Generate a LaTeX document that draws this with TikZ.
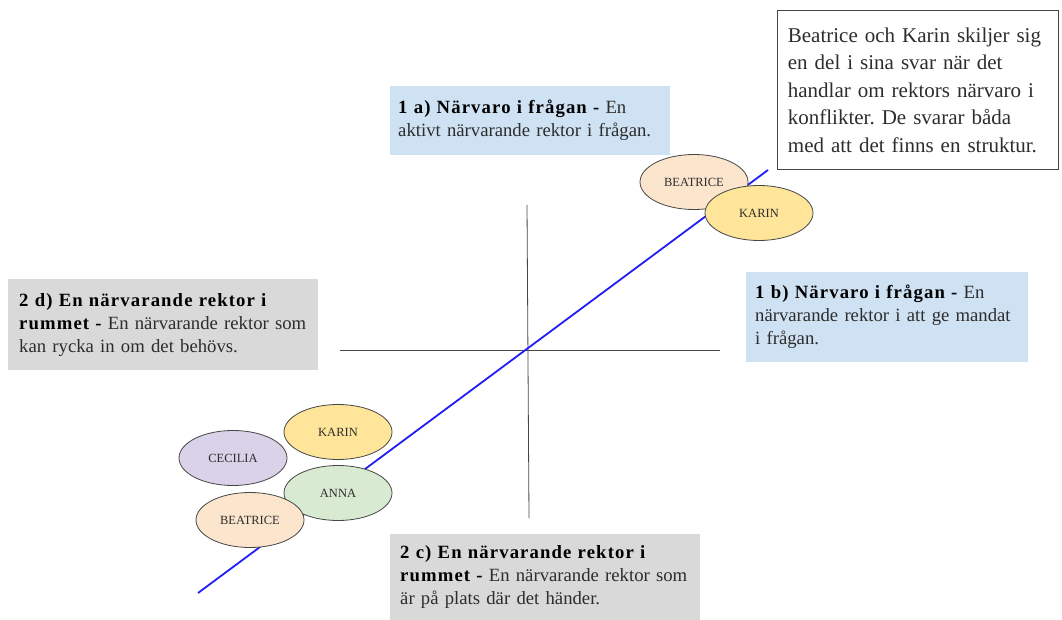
\documentclass[tikz,border=0pt]{standalone}
\usepackage{fontspec}
\setmainfont{Liberation Serif}[BoldFeatures={LetterSpace=6}]
\usetikzlibrary{shapes.geometric}
\frenchspacing
\definecolor{qblue}{RGB}{207,226,243}
\definecolor{qgray}{RGB}{217,217,217}
\definecolor{qpeach}{RGB}{252,229,205}
\definecolor{qyellow}{RGB}{255,229,153}
\definecolor{qlilac}{RGB}{217,210,233}
\definecolor{qgreen}{RGB}{217,234,211}
\definecolor{qaxis}{RGB}{70,70,70}
\definecolor{qtext}{RGB}{45,45,45}
\definecolor{qline}{RGB}{30,30,245}

\begin{document}
\begin{tikzpicture}[x=1pt,y=-1pt,
    qbox/.style={anchor=north west,align=left,inner ysep=0pt,text=qtext,
        font=\fontsize{18.7}{23}\selectfont},
    person/.style={ellipse,draw=qaxis,line width=0.8pt,minimum width=108pt,
        minimum height=55pt,inner sep=0pt,text=qtext,font=\fontsize{12.5}{14}\selectfont}]
    \useasboundingbox (0,0) rectangle (1062,620);

    % Define axes
    \coordinate (xl) at (340,350);
    \coordinate (xr) at (720,350);
    \coordinate (yt) at (527,205);
    \coordinate (yb) at (529,518);
    \draw[qaxis,line width=0.8pt] (xl) -- (xr);
    \draw[qaxis,line width=0.8pt] (yt) -- (yb);

    % Draw the line
    \coordinate (lb) at (198,593);
    \coordinate (lt) at (768,170);
    \draw[qline,line width=1.8pt] (lb) -- (lt);

    % Draw the boxes
    \node[qbox,fill=qblue,text width=264pt,inner xsep=8pt,minimum height=69pt] (q1a) at (390,86)
        {\textbf{\color{black}1 a) Närvaro i frågan -} En\\aktivt närvarande rektor i frågan.};
    \node[qbox,fill=qblue,text width=264pt,inner xsep=9pt,minimum height=90pt] (q1b) at (746,272)
        {\textbf{\color{black}1 b) Närvaro i frågan -} En\\närvarande rektor i att ge mandat\\i frågan.};
    \node[qbox,fill=qgray,text width=288pt,inner xsep=11pt,minimum height=91pt] (q2d) at (8,279)
        {\textbf{\color{black}2 d) En närvarande rektor i}\\\textbf{\color{black}rummet -} En närvarande rektor som\\kan rycka in om det behövs.};
    \node[qbox,fill=qgray,text width=290pt,inner xsep=10pt,minimum height=86pt] (q2c) at (390,534)
        {\textbf{\color{black}2 c) En närvarande rektor i}\\\textbf{\color{black}rummet -} En närvarande rektor som\\är på plats där det händer.};
    \node[qbox,fill=white,draw=qaxis,line width=0.8pt,text width=260pt,inner xsep=10.5pt,
        minimum height=159pt,font=\fontsize{21}{27.5}\selectfont] (note) at (777,10)
        {Beatrice och Karin skiljer sig\\en del i sina svar när det\\handlar om rektors närvaro i\\konflikter. De svarar båda\\med att det finns en struktur.};

    % Draw the persons
    \node[person,fill=qpeach] (beaT) at (694,182) {BEATRICE};
    \node[person,fill=qyellow] (karT) at (759,213) {KARIN};
    \node[person,fill=qyellow] (karB) at (338,432) {KARIN};
    \node[person,fill=qlilac] (cec) at (233,458) {CECILIA};
    \node[person,fill=qgreen] (anna) at (338,493) {ANNA};
    \node[person,fill=qpeach] (beaB) at (250,520) {BEATRICE};
\end{tikzpicture}
\end{document}
